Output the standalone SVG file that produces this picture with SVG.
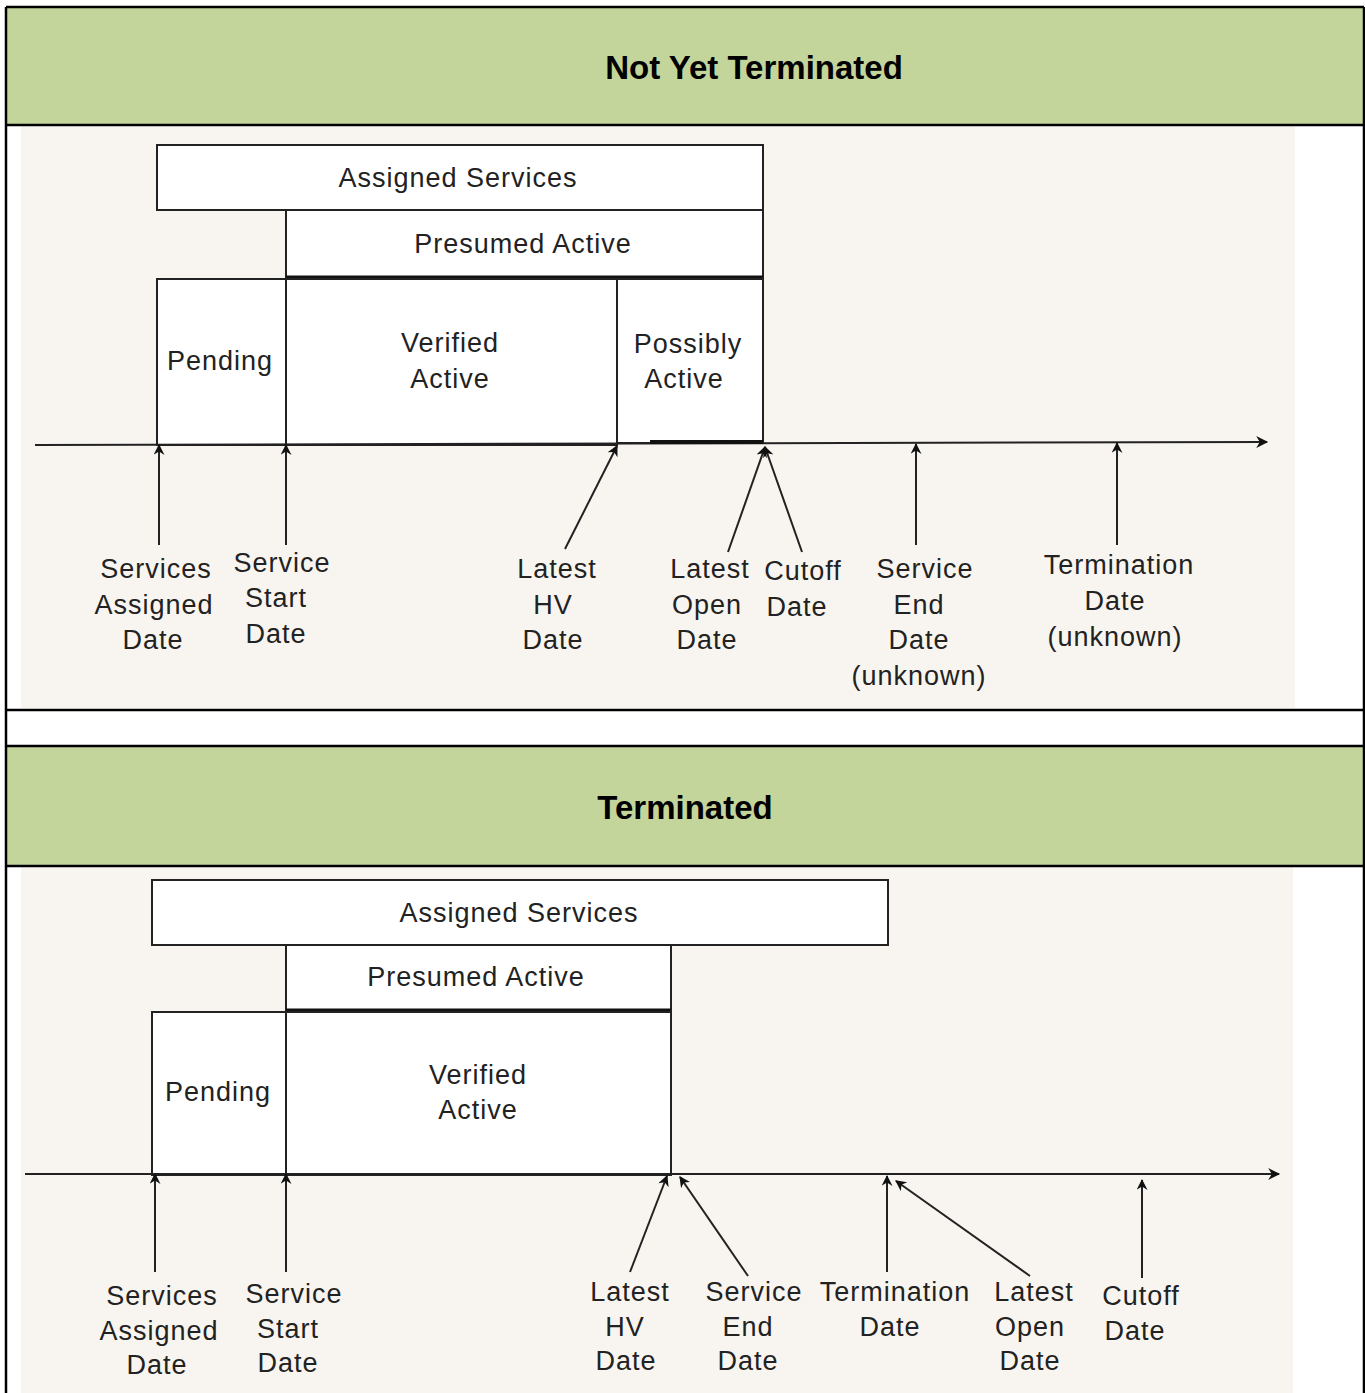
<svg xmlns="http://www.w3.org/2000/svg" width="1365" height="1393" viewBox="0 0 1365 1393">
<style>
.hdr{fill:#c4d59b}
.bg{fill:#f8f5f0}
.tl{stroke:#000;stroke-width:2.5;fill:none}
.box{fill:#fff;stroke:#222;stroke-width:2}
.t{font-family:"Liberation Sans",Arial,sans-serif;font-size:27px;fill:#222;text-anchor:middle;letter-spacing:1px}
.h{font-family:"Liberation Sans",Arial,sans-serif;font-size:33px;font-weight:bold;fill:#000;text-anchor:middle}
.ar{stroke:#222;stroke-width:2;fill:none;marker-end:url(#ah)}
</style>
<defs>
<marker id="ah" viewBox="0 0 10 10" refX="9" refY="5" markerWidth="13" markerHeight="11" orient="auto" markerUnits="userSpaceOnUse">
<path d="M0,0 L10,5 L0,10 L3,5 z" fill="#111"/>
</marker>
<marker id="ahx" viewBox="0 0 10 10" refX="9" refY="5" markerWidth="15" markerHeight="12" orient="auto" markerUnits="userSpaceOnUse">
<path d="M0,0 L10,5 L0,10 L3,5 z" fill="#111"/>
</marker>
</defs>
<rect width="1365" height="1393" fill="#fff"/>
<g id="table">
<rect class="hdr" x="7" y="8" width="1357" height="117"/>
<rect class="bg" x="21" y="126" width="1274" height="582"/>
<rect class="hdr" x="7" y="747" width="1357" height="118"/>
<rect class="bg" x="21" y="867" width="1272" height="526"/>
<path class="tl" d="M6,7 H1364 M6,125 H1364 M6,710 H1364 M6,746 H1364 M6,866 H1364 M6,7 V1393 M1364,7 V1393"/>
<text class="h" x="754" y="79">Not Yet Terminated</text>
<text class="h" x="685" y="819">Terminated</text>
</g>
<g id="d1-assigned"><rect class="box" x="157" y="145" width="606" height="65"/><text class="t" x="458" y="187">Assigned Services</text></g>
<g id="d1-presumed"><rect class="box" x="286" y="210" width="477" height="67"/><line x1="286" y1="277" x2="763" y2="277" stroke="#111" stroke-width="3"/><text class="t" x="523" y="253">Presumed Active</text></g>
<g id="d1-pending"><rect class="box" x="157" y="279" width="129" height="166"/><text class="t" x="220" y="370">Pending</text></g>
<g id="d1-verified"><rect class="box" x="286" y="279" width="331" height="166"/><text class="t" x="450" y="352">Verified</text><text class="t" x="450" y="388">Active</text></g>
<g id="d1-possibly"><rect class="box" x="617" y="279" width="146" height="164"/><text class="t" x="688" y="353">Possibly</text><text class="t" x="684" y="388">Active</text></g>
<g id="d1-l-sad"><text class="t" x="156" y="578">Services</text><text class="t" x="154" y="614">Assigned</text><text class="t" x="153" y="649">Date</text></g>
<g id="d1-l-ssd"><text class="t" x="282" y="572">Service</text><text class="t" x="276" y="607">Start</text><text class="t" x="276" y="643">Date</text></g>
<g id="d1-l-hv"><text class="t" x="557" y="578">Latest</text><text class="t" x="553" y="614">HV</text><text class="t" x="553" y="649">Date</text></g>
<g id="d1-l-lod"><text class="t" x="710" y="578">Latest</text><text class="t" x="707" y="614">Open</text><text class="t" x="707" y="649">Date</text></g>
<g id="d1-l-cut"><text class="t" x="803" y="580">Cutoff</text><text class="t" x="797" y="616">Date</text></g>
<g id="d1-l-sed"><text class="t" x="925" y="578">Service</text><text class="t" x="919" y="614">End</text><text class="t" x="919" y="649">Date</text><text class="t" x="919" y="685">(unknown)</text></g>
<g id="d1-l-term"><text class="t" x="1119" y="574">Termination</text><text class="t" x="1115" y="610">Date</text><text class="t" x="1115" y="646">(unknown)</text></g>
<g id="d2-assigned"><rect class="box" x="152" y="880" width="736" height="65"/><text class="t" x="519" y="922">Assigned Services</text></g>
<g id="d2-presumed"><rect class="box" x="286" y="945" width="385" height="65"/><line x1="286" y1="1010" x2="671" y2="1010" stroke="#111" stroke-width="3"/><text class="t" x="476" y="986">Presumed Active</text></g>
<g id="d2-pending"><rect class="box" x="152" y="1012" width="134" height="163"/><text class="t" x="218" y="1101">Pending</text></g>
<g id="d2-verified"><rect class="box" x="286" y="1012" width="385" height="163"/><text class="t" x="478" y="1084">Verified</text><text class="t" x="478" y="1119">Active</text></g>
<g id="d2-l-sad"><text class="t" x="162" y="1305">Services</text><text class="t" x="159" y="1340">Assigned</text><text class="t" x="157" y="1374">Date</text></g>
<g id="d2-l-ssd"><text class="t" x="294" y="1303">Service</text><text class="t" x="288" y="1338">Start</text><text class="t" x="288" y="1372">Date</text></g>
<g id="d2-l-hv"><text class="t" x="630" y="1301">Latest</text><text class="t" x="625" y="1336">HV</text><text class="t" x="626" y="1370">Date</text></g>
<g id="d2-l-sed"><text class="t" x="754" y="1301">Service</text><text class="t" x="748" y="1336">End</text><text class="t" x="748" y="1370">Date</text></g>
<g id="d2-l-term"><text class="t" x="895" y="1301">Termination</text><text class="t" x="890" y="1336">Date</text></g>
<g id="d2-l-lod"><text class="t" x="1034" y="1301">Latest</text><text class="t" x="1030" y="1336">Open</text><text class="t" x="1030" y="1370">Date</text></g>
<g id="d2-l-cut"><text class="t" x="1141" y="1305">Cutoff</text><text class="t" x="1135" y="1340">Date</text></g>
<g id="connectors">
<line x1="35" y1="445" x2="1267" y2="442" stroke="#222" stroke-width="2" marker-end="url(#ahx)"/>
<line x1="650" y1="442" x2="763" y2="442" stroke="#111" stroke-width="4"/>
<line class="ar" x1="159" y1="545" x2="159" y2="445"/>
<line class="ar" x1="286" y1="545" x2="286" y2="445"/>
<line class="ar" x1="565" y1="549" x2="617" y2="446"/>
<line class="ar" x1="728" y1="552" x2="765" y2="447"/>
<line class="ar" x1="802" y1="552" x2="765" y2="447"/>
<line class="ar" x1="916" y1="545" x2="916" y2="444"/>
<line class="ar" x1="1117" y1="545" x2="1117" y2="443"/>
<line x1="25" y1="1174" x2="1279" y2="1174" stroke="#222" stroke-width="2" marker-end="url(#ahx)"/>
<line class="ar" x1="155" y1="1272" x2="155" y2="1174"/>
<line class="ar" x1="286" y1="1272" x2="286" y2="1174"/>
<line class="ar" x1="630" y1="1272" x2="667" y2="1176"/>
<line class="ar" x1="748" y1="1276" x2="680" y2="1177"/>
<line class="ar" x1="887" y1="1272" x2="887" y2="1176"/>
<line class="ar" x1="1030" y1="1276" x2="896" y2="1181"/>
<line class="ar" x1="1142" y1="1278" x2="1142" y2="1180"/>
</g>
</svg>
